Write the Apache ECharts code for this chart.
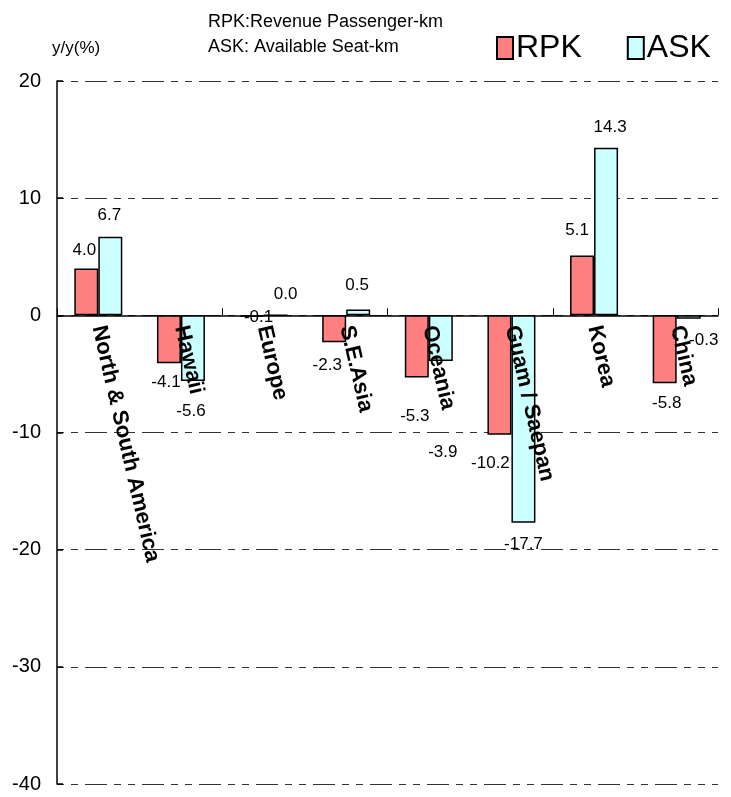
<!DOCTYPE html>
<html lang="en">
<head>
    <meta charset="UTF-8">
    <title>RPK / ASK y/y</title>
    <script src="https://cdn.jsdelivr.net/npm/echarts@6/dist/echarts.min.js"></script>
    <style>
        html, body { margin: 0; padding: 0; background: #fff; }
        #main { width: 731px; height: 797px; }
    </style>
</head>
<body>
<div id="main"></div>
<script>
    var regions = ['North & South America', 'Hawaii', 'Europe', 'S.E.Asia', 'Oceania', 'Guam / Saepan', 'Korea', 'China'];
    var rpk = [4.0, -4.1, -0.1, -2.3, -5.3, -10.2, 5.1, -5.8];
    var ask = [6.7, -5.6, 0.0, 0.5, -3.9, -17.7, 14.3, -0.3];
    var yTicks = [-40, -30, -20, -10, 0, 10, 20];

    // hand nudges for the value labels, like the original sheet
    var rpkNudge = [[-2, -5], [-3, 5], [7, -13], [-7, 10], [-2, 25], [-9, 15], [-5, -12], [2, 7]];
    var askNudge = [[-1, -8], [-2, 17], [10, -7], [-1, -11], [2, 78], [0, 8], [4, -7], [15, 8]];

    var narrow = '"Liberation Sans Narrow", "Arial Narrow", "Liberation Sans", Arial, sans-serif';
    var gridDash = [7, 7, 7, 7, 22, 7];

    function withLabels(vals, nudge) {
        return vals.map(function (v, i) {
            return {
                value: v,
                label: {
                    position: v < 0 ? 'bottom' : 'top',
                    offset: nudge[i]
                }
            };
        });
    }

    var labelStyle = {
        show: true,
        fontFamily: narrow,
        fontSize: 17,
        color: '#000',
        formatter: function (p) { return p.value.toFixed(1); }
    };

    var chart = echarts.init(document.getElementById('main'));
    chart.setOption({
        animation: false,
        backgroundColor: '#fff',
        title: {
            text: 'RPK:Revenue Passenger-km\nASK: Available Seat-km',
            left: 203,
            top: 5,
            textStyle: {
                fontFamily: '"Liberation Sans", Arial, sans-serif',
                fontWeight: 'normal',
                fontSize: 18,
                lineHeight: 25,
                color: '#000'
            }
        },
        legend: {
            left: 491,
            top: 27,
            icon: 'rect',
            itemWidth: 16,
            itemHeight: 22,
            itemGap: 45,
            textStyle: {
                fontFamily: narrow,
                fontSize: 32,
                color: '#000',
                padding: [0, 0, 0, -2]
            }
        },
        graphic: [{
            type: 'text',
            left: 52,
            top: 40,
            style: {
                text: 'y/y(%)',
                font: '17px ' + narrow,
                fill: '#000'
            }
        }],
        grid: {
            left: 57,
            right: 13,
            top: 81,
            bottom: 13,
            containLabel: false,
            outerBoundsMode: 'none'
        },
        xAxis: [
            {
                type: 'category',
                data: regions,
                axisLine: { onZero: true, lineStyle: { color: '#000', width: 1.5 } },
                axisTick: { show: true, inside: true, length: 7, lineStyle: { color: '#000', width: 1 } },
                axisLabel: { show: false },
                splitLine: { show: false }
            },
            {
                // label row sitting under the zero line, drawn over the bars
                type: 'category',
                position: 'bottom',
                data: regions,
                offset: -469,
                z: 10,
                axisLine: { show: false },
                axisTick: { show: false },
                axisLabel: {
                    rotate: -77,
                    margin: 11,
                    interval: 0,
                    fontFamily: '"Liberation Sans", Arial, sans-serif',
                    fontWeight: 'bold',
                    fontSize: 22,
                    color: '#000'
                },
                splitLine: { show: false }
            }
        ],
        yAxis: {
            type: 'value',
            min: yTicks[0],
            max: yTicks[yTicks.length - 1],
            interval: 10,
            axisLine: { show: true, lineStyle: { color: '#000', width: 1.5 } },
            axisTick: { show: true, inside: true, length: 6, lineStyle: { color: '#000', width: 1.5 } },
            axisLabel: {
                margin: 16,
                fontFamily: narrow,
                fontSize: 20,
                color: '#000'
            },
            splitLine: {
                show: true,
                lineStyle: { color: '#333', width: 1, type: gridDash }
            }
        },
        series: [
            {
                name: 'RPK',
                type: 'bar',
                barWidth: 24,
                barGap: '0%',
                data: withLabels(rpk, rpkNudge),
                itemStyle: { color: '#ff8080', borderColor: '#000', borderWidth: 1.5 },
                label: labelStyle
            },
            {
                name: 'ASK',
                type: 'bar',
                barWidth: 24,
                barGap: '0%',
                data: withLabels(ask, askNudge),
                itemStyle: { color: '#ccffff', borderColor: '#000', borderWidth: 1.5 },
                label: labelStyle
            }
        ]
    });
</script>
</body>
</html>
